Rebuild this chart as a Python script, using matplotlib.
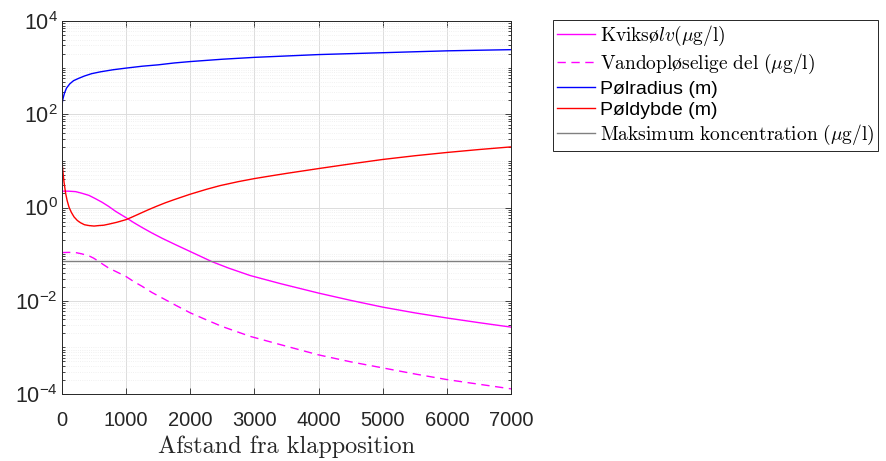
import math

import matplotlib
matplotlib.use("Agg")
import matplotlib.pyplot as plt
from matplotlib.ticker import FixedLocator, LogLocator, FuncFormatter, NullFormatter

plt.rcParams["font.family"] = ["Liberation Sans", "DejaVu Sans"]
plt.rcParams["mathtext.fontset"] = "cm"
SERIF = ["cmr10", "DejaVu Serif"]

# --- data (x = distance from dump position) ---
x_radius = [0, 2, 5, 10, 20, 40, 70, 120, 180, 260, 350, 460, 600, 800, 1000, 1250,
            1500, 1750, 2000, 2500, 3000, 3500, 4000, 4500, 5000, 5500, 6000, 6500, 7000]
radius = [135, 158, 178, 200, 229, 288, 363, 447, 525, 589, 661, 741, 813, 902, 977,
          1072, 1148, 1259, 1349, 1514, 1660, 1778, 1905, 1995, 2089, 2188, 2291,
          2360, 2427]

x_depth = [0, 8, 15, 31, 57, 80, 109, 145, 187, 240, 290, 350, 420, 500, 575, 650,
           731, 850, 1000, 1100, 1222, 1350, 1480, 1610, 1740, 1870, 2000, 2250, 2466,
           2750, 3000, 3250, 3508, 4000, 4500, 5000, 5500, 6000, 6500, 7000]
depth = [9.5, 7.2, 5.75, 3.55, 2.0, 1.41, 1.02, 0.79, 0.63, 0.525, 0.47, 0.427, 0.41,
         0.40, 0.41, 0.417, 0.44, 0.48, 0.55, 0.63, 0.75, 0.90, 1.07, 1.26, 1.46, 1.68,
         1.93, 2.45, 2.95, 3.59, 4.17, 4.75, 5.41, 6.84, 8.61, 10.72, 12.88, 15.14,
         17.5, 19.95]

x_hg = [0, 100, 212, 300, 420, 520, 627, 730, 834, 1000, 1120, 1249, 1400, 1560,
        1780, 2000, 2337, 2600, 2935, 3400, 4000, 4500, 5000, 5500, 6000, 6500, 7000]
hg_total = [2.24, 2.24, 2.19, 2.04, 1.82, 1.55, 1.29, 1.05, 0.83, 0.603, 0.473, 0.372,
            0.285, 0.219, 0.157, 0.1135, 0.069, 0.050, 0.0347, 0.0234, 0.0146, 0.0102,
            0.0073, 0.0055, 0.00427, 0.00339, 0.00272]

x_diss = [0, 100, 212, 300, 420, 500, 575, 650, 731, 850, 1000, 1120, 1249, 1400,
          1560, 1780, 2000, 2250, 2492, 2935, 3400, 4000, 4500, 5000, 5500, 6000,
          6500, 7000]
hg_dissolved = [0.108, 0.109, 0.108, 0.102, 0.092, 0.081, 0.069, 0.059, 0.050,
                0.0417, 0.033, 0.0257, 0.0204, 0.0151, 0.0115, 0.0079, 0.0055, 0.0039,
                0.00282, 0.00172, 0.00115, 0.00069, 0.00049, 0.000363, 0.000269,
                0.000204, 0.000162, 0.000129]

x_limit = [0, 7000]
max_conc = [0.07, 0.07]

labels = [
    r"$\mathrm{Kviks ø}lv(\mu\mathrm{g/l})$",
    r"$\mathrm{Vandopløselige\ del\ (}\mu\mathrm{g/l)}$",
    "Pølradius (m)",
    "Pøldybde (m)",
    r"$\mathrm{Maksimum\ koncentration\ (}\mu\mathrm{g/l)}$",
]
x_ticks = [0, 1000, 2000, 3000, 4000, 5000, 6000, 7000]
y_ticks = [1e-4, 1e-2, 1e0, 1e2, 1e4]

fig = plt.figure(figsize=(8.87, 4.61), dpi=100)
ax = fig.add_axes([62 / 887, 1 - 394 / 461, 449 / 887, 373 / 461])

h1, = ax.plot(x_hg, hg_total, color="#ff00ff", lw=1.0)
h2, = ax.plot(x_diss, hg_dissolved, color="#ff00ff", lw=1.0, dashes=(6, 4))
h3, = ax.plot(x_radius, radius, color="#0000ff", lw=1.0)
h4, = ax.plot(x_depth, depth, color="#ff0000", lw=1.0)
h5, = ax.plot(x_limit, max_conc, color="#808080", lw=1.0)

ax.set_yscale("log")
ax.set_xlim(0, 7000)
ax.set_ylim(1e-4, 1e4)
ax.xaxis.set_major_locator(FixedLocator(x_ticks))
ax.yaxis.set_major_locator(FixedLocator(y_ticks))
ax.yaxis.set_minor_locator(LogLocator(base=10, subs=range(1, 10), numticks=20))
ax.yaxis.set_minor_formatter(NullFormatter())
ax.yaxis.set_major_formatter(
    FuncFormatter(lambda v, p: r"$\mathregular{10^{%d}}$" % round(math.log10(v))))

ax.tick_params(which="both", direction="in", top=True, right=True,
               colors="#262626", width=0.6)
ax.tick_params(axis="x", labelsize=14.5, pad=12)
ax.tick_params(axis="y", labelsize=15.5, pad=3)
ax.tick_params(which="major", length=4)
ax.tick_params(which="minor", length=2)
for s in ax.spines.values():
    s.set_color("#262626")
    s.set_linewidth(0.7)

ax.grid(True, which="major", color="#dcdcdc", lw=0.7)
ax.grid(True, which="minor", axis="y", color="#ececec", lw=0.6, linestyle=":")
ax.set_axisbelow(True)

ax.set_xlabel("Afstand fra klapposition", fontsize=17.5, family=SERIF,
              color="#262626", labelpad=4)

leg = fig.legend([h1, h2, h3, h4, h5], labels, loc="upper left",
                 bbox_to_anchor=(553 / 887, 1 - 20 / 461), borderaxespad=0,
                 fontsize=14, handlelength=1.95, handletextpad=0.25,
                 borderpad=0.2, labelspacing=0.2, fancybox=False,
                 edgecolor="#262626", framealpha=1)
leg.get_frame().set_linewidth(0.7)
for i in (0, 1, 4):
    leg.get_texts()[i].set_family(SERIF)

fig.savefig("out.png", dpi=100)
